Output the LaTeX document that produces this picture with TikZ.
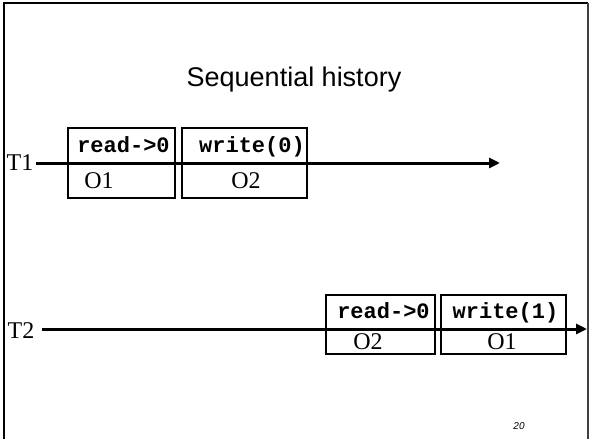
\documentclass[tikz,border=0pt]{standalone}
\usepackage{fontspec}
\setmainfont{Liberation Serif}
\newfontfamily\codefont{Liberation Mono}
\newfontfamily\titlefont{Liberation Sans}
\usetikzlibrary{arrows.meta}
\begin{document}
\begin{tikzpicture}[x=1pt,y=-1pt,
  cell/.style={draw, line width=1.8pt, inner sep=0pt, anchor=north west},
  code/.style={font=\codefont\bfseries\fontsize{22}{24}\selectfont, inner sep=0pt, anchor=base},
  obj/.style={font=\fontsize{24}{26}\selectfont, inner sep=0pt, anchor=base},
  thread/.style={font=\fontsize{24}{26}\selectfont, inner sep=0pt, anchor=base},
  timeline/.style={line width=3pt, -{Triangle[length=11pt,width=10pt]}}]
\useasboundingbox (0,0) rectangle (589,439);
% slide frame
\draw[line width=2.5pt] (4,439) -- (4,3) -- (588,3);
\draw[black!75, line width=1.3pt] (588,3) -- (588,439);
% title
\node[font=\titlefont\fontsize{27}{30}\selectfont, inner sep=0pt, anchor=base] (title) at (294,86) {Sequential history};
% T1 boxes
\node[cell, minimum width=107pt, minimum height=36pt] (b1u) at (67,127) {};
\node[cell, minimum width=107pt, minimum height=34pt] (b1l) at (67,163) {};
\node[cell, minimum width=125pt, minimum height=36pt] (b2u) at (181,127) {};
\node[cell, minimum width=125pt, minimum height=34pt] (b2l) at (181,163) {};
\node[code] (r1) at (123.5,152) {read->0};
\node[code] (w1) at (252,152) {write(0)};
\node[obj] (o11) at (99,188) {O1};
\node[obj] (o12) at (246,188) {O2};
% T1 timeline
\node[thread] (t1) at (20,170) {T1};
\coordinate (t1end) at (500,163);
\draw[timeline] (36,163) -- (t1end);
% T2 boxes
\node[cell, minimum width=109pt, minimum height=35pt] (b3u) at (325,294) {};
\node[cell, minimum width=109pt, minimum height=24pt] (b3l) at (325,329) {};
\node[cell, minimum width=125pt, minimum height=35pt] (b4u) at (440,294) {};
\node[cell, minimum width=125pt, minimum height=24pt] (b4l) at (440,329) {};
\node[code] (r2) at (383.5,318) {read->0};
\node[code] (w2) at (505.5,318) {write(1)};
\node[obj] (o22) at (368,349) {O2};
\node[obj] (o21) at (502,349) {O1};
% T2 timeline
\node[thread] (t2) at (21,338) {T2};
\coordinate (t2end) at (587,329);
\draw[timeline] (42,329) -- (t2end);
% page number
\node[font=\titlefont\itshape\fontsize{10}{12}\selectfont, inner sep=0pt] (pg) at (519,426) {20};
\end{tikzpicture}
\end{document}
